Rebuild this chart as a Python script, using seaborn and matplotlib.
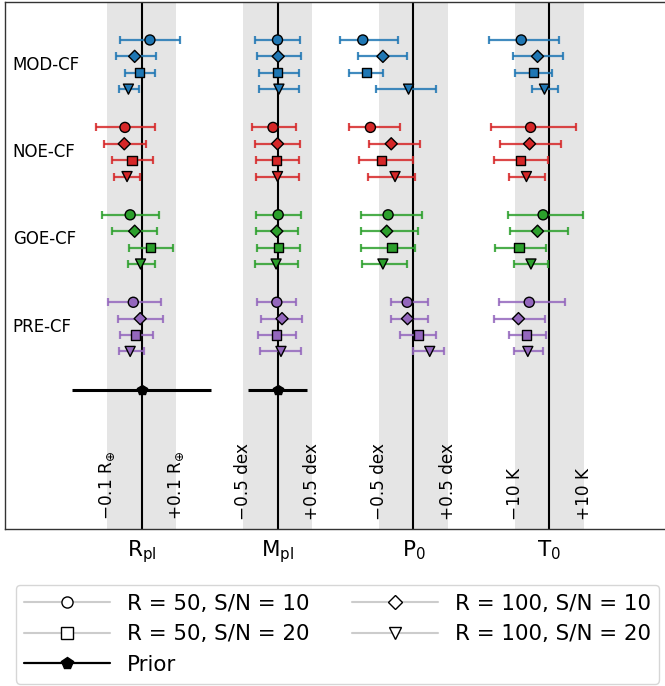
import numpy as np
import pandas as pd
import matplotlib
matplotlib.use("Agg")
import matplotlib.pyplot as plt
import seaborn as sns
from matplotlib.lines import Line2D
from matplotlib.colors import to_rgba

# ---------------- data (offsets from the truth, in units of the grey band half-width) ----
params = ["R$_{\\rm pl}$", "M$_{\\rm pl}$", "P$_0$", "T$_0$"]
band_minus = ["\u22120.1 R$_{\\oplus}$", "\u22120.5 dex", "\u22120.5 dex", "\u221210 K"]
band_plus = ["+0.1 R$_{\\oplus}$", "+0.5 dex", "+0.5 dex", "+10 K"]
models = ["MOD-CF", "NOE-CF", "GOE-CF", "PRE-CF"]
configs = ["R = 50, S/N = 10", "R = 100, S/N = 10", "R = 50, S/N = 20", "R = 100, S/N = 20"]

# rows: configs; columns: Rpl, Mpl, P0, T0
mod_cf_val = [[0.24, 0.00, -1.46, -0.81], [-0.20, 0.02, -0.88, -0.34],
              [-0.07, 0.00, -1.35, -0.45], [-0.38, 0.04, -0.14, -0.14]]
mod_cf_lo = [[0.85, 0.64, 0.67, 0.92], [0.54, 0.62, 0.71, 0.71],
             [0.41, 0.54, 0.52, 0.53], [0.28, 0.56, 0.95, 0.37]]
mod_cf_hi = [[0.87, 0.65, 1.02, 1.09], [0.62, 0.66, 0.70, 0.73],
             [0.46, 0.62, 0.47, 0.53], [0.31, 0.58, 0.78, 0.38]]

noe_cf_val = [[-0.48, -0.13, -1.24, -0.54], [-0.50, 0.00, -0.64, -0.57],
              [-0.28, -0.02, -0.93, -0.84], [-0.42, 0.00, -0.53, -0.66]]
noe_cf_lo = [[0.84, 0.61, 0.62, 1.13], [0.59, 0.64, 0.63, 0.84],
             [0.56, 0.60, 0.63, 0.75], [0.37, 0.62, 0.79, 0.49]]
noe_cf_hi = [[0.87, 0.66, 0.86, 1.31], [0.63, 0.66, 0.83, 0.91],
             [0.62, 0.64, 0.91, 0.80], [0.38, 0.62, 0.57, 0.53]]

goe_cf_val = [[-0.33, 0.02, -0.73, -0.18], [-0.20, -0.02, -0.77, -0.34],
              [0.25, 0.02, -0.62, -0.87], [-0.03, -0.04, -0.88, -0.53]]
goe_cf_lo = [[0.82, 0.64, 0.78, 1.01], [0.66, 0.60, 0.74, 0.79],
             [0.62, 0.60, 0.88, 0.71], [0.37, 0.60, 0.60, 0.49]]
goe_cf_hi = [[0.84, 0.66, 0.99, 1.15], [0.63, 0.62, 0.91, 0.88],
             [0.67, 0.64, 0.67, 0.77], [0.41, 0.62, 0.69, 0.49]]

pre_cf_val = [[-0.24, -0.02, -0.18, -0.58], [-0.04, 0.13, -0.17, -0.89],
              [-0.17, -0.02, 0.14, -0.66], [-0.33, 0.10, 0.47, -0.62]]
pre_cf_lo = [[0.74, 0.58, 0.48, 0.86], [0.63, 0.60, 0.47, 0.70],
             [0.45, 0.54, 0.54, 0.51], [0.33, 0.60, 0.49, 0.40]]
pre_cf_hi = [[0.79, 0.54, 0.59, 1.02], [0.67, 0.58, 0.60, 0.77],
             [0.49, 0.54, 0.50, 0.57], [0.39, 0.58, 0.42, 0.43]]

prior_val = [0.0, 0.0]
prior_err = [2.0, 0.84]   # only Rpl and Mpl have a prior

# ---------------- styling ----------------
colors = ["#1f77b4", "#d62728", "#2ca02c", "#9467bd"]
markers = ["o", "D", "s", "v"]
sizes = [52, 38, 45, 52]
spacing = 3.92      # distance between parameters (band half-width = 1)
row_step = 0.1875

sns.set_style("white")
plt.rcParams["font.family"] = ["DejaVu Sans"]
plt.rcParams["mathtext.default"] = "regular"
plt.rcParams["text.color"] = "black"
plt.rcParams["xtick.color"] = "black"
plt.rcParams["axes.labelcolor"] = "black"

vals = [mod_cf_val, noe_cf_val, goe_cf_val, pre_cf_val]
los = [mod_cf_lo, noe_cf_lo, goe_cf_lo, pre_cf_lo]
his = [mod_cf_hi, noe_cf_hi, goe_cf_hi, pre_cf_hi]

rows = []
for g, m in enumerate(models):
    for r, c in enumerate(configs):
        for p in range(len(params)):
            rows.append(dict(model=m, config=c, param=p,
                             x=vals[g][r][p] + p * spacing,
                             y=g + r * row_step,
                             lo=los[g][r][p], hi=his[g][r][p]))
df = pd.DataFrame(rows)

fig = plt.figure(figsize=(6.65, 6.86), dpi=100)
W, H = 665, 686
# axes runs past the right edge of the figure (its right side is cut off)
ax = fig.add_axes([5 / W, 1 - 528.7 / H, 681 / W, 527.2 / H])

for p in range(len(params)):
    pos = p * spacing
    ax.axvspan(pos - 1, pos + 1, color="#e5e5e5", lw=0, zorder=0)
    ax.axvline(pos, color="black", lw=1.5, zorder=2)
    ax.text(pos - 1, 5.49, band_minus[p], rotation=90, ha="center", va="bottom", fontsize=12.2)
    ax.text(pos + 1, 5.49, band_plus[p], rotation=90, ha="center", va="bottom", fontsize=12.2)

for g, m in enumerate(models):
    sub = df[df.model == m]
    ax.errorbar(sub.x, sub.y, xerr=[sub.lo, sub.hi], fmt="none",
                ecolor=to_rgba(colors[g], 0.85), elinewidth=1.6, capsize=3.2,
                capthick=1.6, zorder=3)
    ax.text(-3.72, g + 1.5 * row_step, m, ha="left", va="center", fontsize=12)

sns.scatterplot(data=df, x="x", y="y", hue="model", style="config", size="config",
                palette=dict(zip(models, colors)), markers=dict(zip(configs, markers)),
                sizes=dict(zip(configs, sizes)), edgecolor="black", linewidth=1,
                legend=False, zorder=4, ax=ax)

prior_x = [prior_val[i] + i * spacing for i in range(2)]
ax.errorbar(prior_x, [4, 4], xerr=prior_err, fmt="p", color="black", ms=7.5,
            lw=2.2, capsize=0, zorder=4)

ax.set_xlim(-3.94, -3.94 + 681 / 34.67)
ax.set_ylim(5.59, -0.44)
ax.set_yticks([])
ax.set_xticks([p * spacing for p in range(len(params))])
ax.set_xticklabels(params, fontsize=15.5)
ax.tick_params(axis="x", length=3.5, width=0.8, color="black", pad=3.5)
ax.set_xlabel("")
ax.set_ylabel("")
for s in ax.spines.values():
    s.set_color("#333333")
    s.set_linewidth(1.0)
ax.spines["right"].set_visible(False)

handles = []
for c, mk in zip(configs, markers):
    handles.append(Line2D([], [], color="#cccccc", lw=1.5, marker=mk, mfc="white",
                          mec="black", ms=8 if mk != "D" else 7.5))
prior_h = Line2D([], [], color="black", lw=1.6, marker="p", ms=8.5)
leg_handles = [handles[0], handles[2], prior_h, handles[1], handles[3]]
leg_labels = [configs[0], configs[2], "Prior", configs[1], configs[3]]
fig.legend(leg_handles, leg_labels, ncol=2, loc="upper center",
           bbox_to_anchor=(337.5 / W, 1 - 585 / H), fontsize=15.4, handlelength=4,
           columnspacing=2.0, frameon=True, labelspacing=0.5, borderaxespad=0)

fig.savefig("out.png", dpi=100)
